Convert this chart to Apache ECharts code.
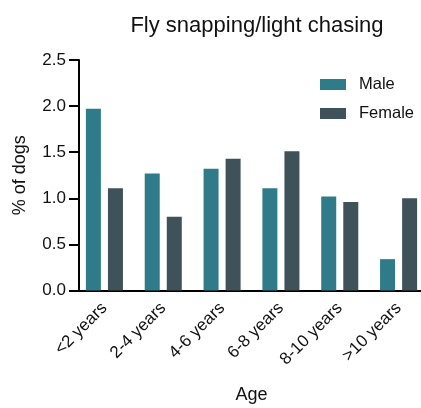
<!DOCTYPE html>
<html><head><meta charset="utf-8">
<script src="https://cdn.jsdelivr.net/npm/echarts@6/dist/echarts.min.js"></script>
<style>html,body{margin:0;padding:0;background:#fff}#c{width:421px;height:408px}</style>
</head><body><div id="c"></div>
<script>
const categories = ['<2 years','2-4 years','4-6 years','6-8 years','8-10 years','>10 years'];
const male = [1.97, 1.27, 1.32, 1.11, 1.02, 0.34];
const female = [1.11, 0.80, 1.43, 1.51, 0.96, 1.00];
const yTicks = [0, 0.5, 1.0, 1.5, 2.0, 2.5];
const font = 'Liberation Sans, Arial, sans-serif';
const chart = echarts.init(document.getElementById('c'));
chart.setOption({
  animation: false,
  title: {text: 'Fly snapping/light chasing', left: 252, top: 10, textAlign: 'center',
    textStyle: {fontFamily: font, fontSize: 22, fontWeight: 'normal', color: '#111'}},
  legend: {orient: 'vertical', left: 315, top: 71, itemWidth: 26, itemHeight: 11, itemGap: 12,
    icon: 'rect',
    textStyle: {fontFamily: font, fontSize: 16.5, color: '#111', padding: [0,0,0,8]},
    data: ['Male','Female']},
  grid: {left: 75, top: 60, width: 353, height: 230.5, outerBoundsMode: 'none', containLabel: false},
  xAxis: {type: 'category', data: categories, name: 'Age', nameLocation: 'middle', nameGap: 96,
    nameTextStyle: {fontFamily: font, fontSize: 18, color: '#111'},
    axisLine: {lineStyle: {color: '#000', width: 2}},
    axisTick: {alignWithLabel: true, length: 9, lineStyle: {color: '#000', width: 2}},
    axisLabel: {rotate: 45, fontFamily: font, fontSize: 17, color: '#111', margin: 15}},
  yAxis: {type: 'value', min: 0, max: 2.5, interval: 0.5, offset: -4,
    name: '% of dogs', nameLocation: 'middle', nameGap: 50,
    nameTextStyle: {fontFamily: font, fontSize: 18, color: '#111'},
    splitLine: {show: false},
    axisLine: {show: true, lineStyle: {color: '#000', width: 2}},
    axisTick: {show: true, length: 10, lineStyle: {color: '#000', width: 2}},
    axisLabel: {fontFamily: font, fontSize: 17, color: '#111', margin: 13,
      formatter: v => yTicks.includes(v) ? v.toFixed(1) : ''}},
  series: [
    {name: 'Male', type: 'bar', data: male, barWidth: 15, barGap: '47%', itemStyle: {color: '#2F7B8A'}},
    {name: 'Female', type: 'bar', data: female, barWidth: 15, itemStyle: {color: '#3F5259'}}
  ]
});
</script></body></html>
